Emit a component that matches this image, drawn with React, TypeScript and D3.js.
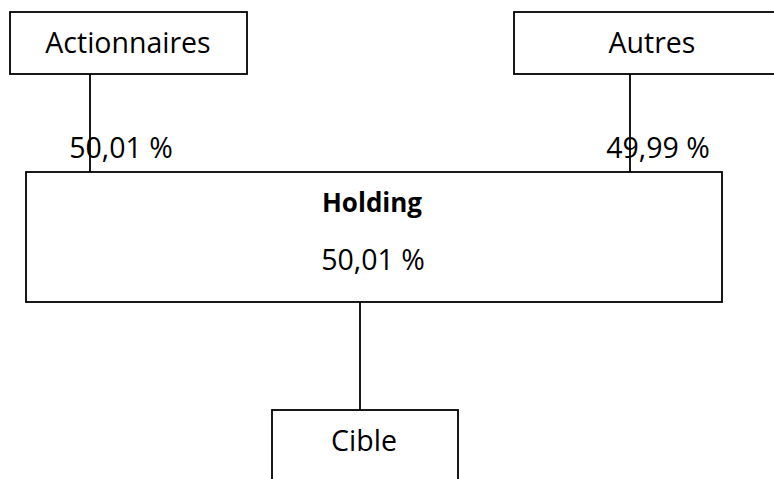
import * as d3 from 'd3';
import React, { useEffect, useRef } from 'react';

// entities in the ownership chart
const owners = ['Actionnaires', 'Autres'];
const ownerShares = ['50,01 %', '49,99 %'];
const holding = 'Holding';
const holdingShare = '50,01 %';
const target = 'Cible';

const W = 774;
const H = 479;
const FONT = '"Open Sans", sans-serif';

function App() {
  const ref = useRef<SVGSVGElement>(null);

  useEffect(() => {
    document.body.style.margin = '0';
    const svg = d3.select(ref.current);
    svg.selectAll('*').remove();

    // layout of the boxes (owner boxes: left edge, width)
    const ownerBox = [
      { x: 10, w: 237 },
      { x: 514, w: 300 },
    ];
    const ownerTop = 12, ownerH = 62;
    const hold = { x: 26, y: 172, w: 696, h: 130 };
    const cible = { x: 272, y: 410, w: 186, h: 90 };
    const linkX = [90, 630];
    const labelX = [128, 652];
    const shareX = [121, 658];

    const g = svg.append('g').attr('stroke', '#000').attr('stroke-width', 1.8).attr('fill', 'none');

    owners.forEach((o, i) => {
      g.append('rect')
        .attr('x', ownerBox[i].x)
        .attr('y', ownerTop)
        .attr('width', ownerBox[i].w)
        .attr('height', ownerH);
      g.append('line')
        .attr('x1', linkX[i]).attr('x2', linkX[i])
        .attr('y1', ownerTop + ownerH).attr('y2', hold.y);
    });

    g.append('rect').attr('x', hold.x).attr('y', hold.y).attr('width', hold.w).attr('height', hold.h);
    g.append('line').attr('x1', 360).attr('x2', 360).attr('y1', hold.y + hold.h).attr('y2', cible.y);
    g.append('rect').attr('x', cible.x).attr('y', cible.y).attr('width', cible.w).attr('height', cible.h);

    const t = svg.append('g').attr('font-family', FONT).attr('font-size', 28.5).attr('fill', '#000');

    owners.forEach((o, i) => {
      t.append('text')
        .attr('x', labelX[i])
        .attr('y', 53)
        .attr('text-anchor', 'middle')
        .text(o);
      t.append('text')
        .attr('x', shareX[i])
        .attr('y', 158)
        .attr('text-anchor', 'middle')
        .text(ownerShares[i]);
    });

    t.append('text').attr('x', 372).attr('y', 212).attr('text-anchor', 'middle')
      .attr('font-weight', 'bold').attr('font-size', 26).text(holding);
    t.append('text').attr('x', 373).attr('y', 270).attr('text-anchor', 'middle').text(holdingShare);
    t.append('text').attr('x', 364).attr('y', 451).attr('text-anchor', 'middle').text(target);
  }, []);

  return (
    <svg ref={ref} width={W} height={H} style={{ display: 'block', background: '#fff' }} />
  );
}

export default App;
